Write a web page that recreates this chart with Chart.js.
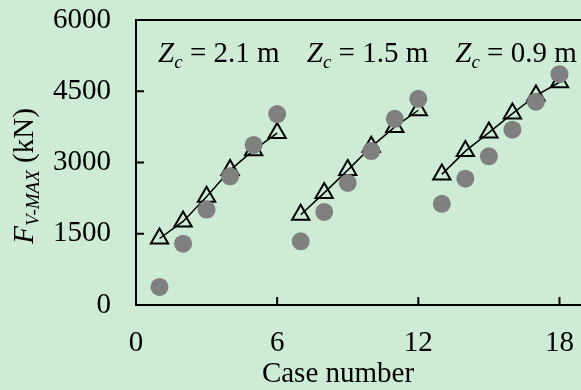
<!DOCTYPE html>
<html>
<head>
<meta charset="utf-8">
<script src="https://cdn.jsdelivr.net/npm/chart.js@4.4.1/dist/chart.umd.min.js"></script>
<style>
  body { margin: 0; background: #cdebd5; overflow: hidden; }
  #wrap { width: 581px; height: 390px; overflow: hidden; }
</style>
</head>
<body>
<div id="wrap"><canvas id="main-canvas" width="600" height="390"></canvas></div>
<script>
// values
const caseNumbers = [1, 2, 3, 4, 5, 6, 7, 8, 9, 10, 11, 12, 13, 14, 15, 16, 17, 18];
const measured = [380, 1290, 2010, 2710, 3370, 4020,
                  1340, 1960, 2570, 3240, 3920, 4340,
                  2130, 2660, 3130, 3690, 4280, 4860];
const predicted21 = [1400, 1760, 2280, 2840, 3260, 3620];
const predicted15 = [1900, 2360, 2840, 3330, 3750, 4100];
const predicted09 = [2750, 3240, 3630, 4030, 4410, 4690];
const zcLabels = ['2.1', '1.5', '0.9'];
const xTicks = [0, 6, 12, 18];
const yTicks = [0, 1500, 3000, 4500, 6000];

const FONT = '"Liberation Serif", "Times New Roman", serif';
const FS = 29;

function pts(xs, ys) {
    return ys.map((v, i) => ({ x: xs[i], y: v }));
}

// draw a run of text pieces, some italic and/or subscript
function richText(ctx, x, y, parts) {
    let cx = x;
    parts.forEach(p => {
        const size = p.sub ? Math.round(FS * 0.65) : FS;
        ctx.font = (p.italic ? 'italic ' : '') + size + 'px ' + FONT;
        ctx.fillText(p.t, cx, y + (p.sub ? 6 : 0));
        cx += ctx.measureText(p.t).width;
    });
}

const framePlugin = {
    id: 'frame',
    afterDraw: chart => {
        const { ctx, chartArea: a, scales } = chart;
        const xs = scales.x, ys = scales.y;
        ctx.save();
        ctx.strokeStyle = '#000';
        ctx.lineWidth = 2;
        ctx.beginPath();
        ctx.moveTo(a.left - 1, a.top);
        ctx.lineTo(a.right + 20, a.top);
        yTicks.forEach(v => {
            const py = ys.getPixelForValue(v);
            ctx.moveTo(a.left, py);
            ctx.lineTo(a.left + 8, py);
        });
        xTicks.forEach(v => {
            const px = xs.getPixelForValue(v);
            ctx.moveTo(px, a.bottom);
            ctx.lineTo(px, a.bottom - 8);
        });
        ctx.stroke();

        ctx.fillStyle = '#000';
        ctx.textBaseline = 'alphabetic';
        ctx.textAlign = 'left';

        // Zc labels above each group
        const labelX = [0.94, 7.26, 13.57];
        zcLabels.forEach((z, i) => {
            richText(ctx, xs.getPixelForValue(labelX[i]), ys.getPixelForValue(5115), [
                { t: 'Z', italic: true },
                { t: 'c', italic: true, sub: true },
                { t: ' = ' + z + ' m' }
            ]);
        });

        // x title
        ctx.font = FS + 'px ' + FONT;
        ctx.textAlign = 'center';
        ctx.fillText('Case number', 338, 382);

        // y title
        ctx.translate(33, 176);
        ctx.rotate(-Math.PI / 2);
        ctx.textAlign = 'left';
        const parts = [
            { t: 'F', italic: true },
            { t: 'V-MAX', italic: true, sub: true },
            { t: ' (kN)' }
        ];
        let w = 0;
        parts.forEach(p => {
            ctx.font = (p.italic ? 'italic ' : '') + (p.sub ? Math.round(FS * 0.65) : FS) + 'px ' + FONT;
            w += ctx.measureText(p.t).width;
        });
        richText(ctx, -w / 2, 0, parts);
        ctx.restore();
    }
};

function triSet(label, xs, ys) {
    return {
        type: 'line',
        label: label,
        data: pts(xs, ys),
        order: 1,
        showLine: true,
        borderColor: '#000',
        borderWidth: 1.5,
        pointStyle: 'triangle',
        pointRadius: 10,
        pointBorderWidth: 2,
        pointBorderColor: '#000',
        pointBackgroundColor: 'rgba(0,0,0,0)',
        fill: false
    };
}

const ctx = document.getElementById('main-canvas').getContext('2d');
const myChart = new Chart(ctx, {
    type: 'scatter',
    plugins: [framePlugin],
    data: {
        datasets: [
            {
                label: 'Measured',
                data: pts(caseNumbers, measured),
                order: 0,
                pointStyle: 'circle',
                pointRadius: 9,
                pointBorderWidth: 0,
                backgroundColor: '#808080',
                borderColor: '#808080'
            },
            triSet('Zc 2.1', caseNumbers.slice(0, 6), predicted21),
            triSet('Zc 1.5', caseNumbers.slice(6, 12), predicted15),
            triSet('Zc 0.9', caseNumbers.slice(12, 18), predicted09)
        ]
    },
    options: {
        responsive: false,
        animation: false,
        devicePixelRatio: 1,
        layout: { padding: { top: 20, right: 17, left: 0, bottom: 0 } },
        plugins: {
            legend: { display: false },
            tooltip: { enabled: false }
        },
        scales: {
            x: {
                type: 'linear',
                min: 0,
                max: 19,
                afterBuildTicks: axis => axis.ticks = xTicks.map(v => ({ value: v })),
                afterFit: axis => { axis.height = 85; },
                grid: { display: false },
                border: { display: true, color: '#000', width: 2 },
                ticks: { color: '#000', padding: 13, maxRotation: 0, callback: v => String(v),
                         font: { family: FONT, size: FS } }
            },
            y: {
                min: 0,
                max: 6000,
                afterBuildTicks: axis => axis.ticks = yTicks.map(v => ({ value: v })),
                afterFit: axis => { axis.width = 136; axis.paddingTop = 0; axis.paddingBottom = 0; },
                grid: { display: false },
                border: { display: true, color: '#000', width: 2 },
                ticks: { color: '#000', padding: 17, callback: v => String(v),
                         font: { family: FONT, size: FS, lineHeight: 0.5 } }
            }
        }
    }
});
</script>
</body>
</html>
